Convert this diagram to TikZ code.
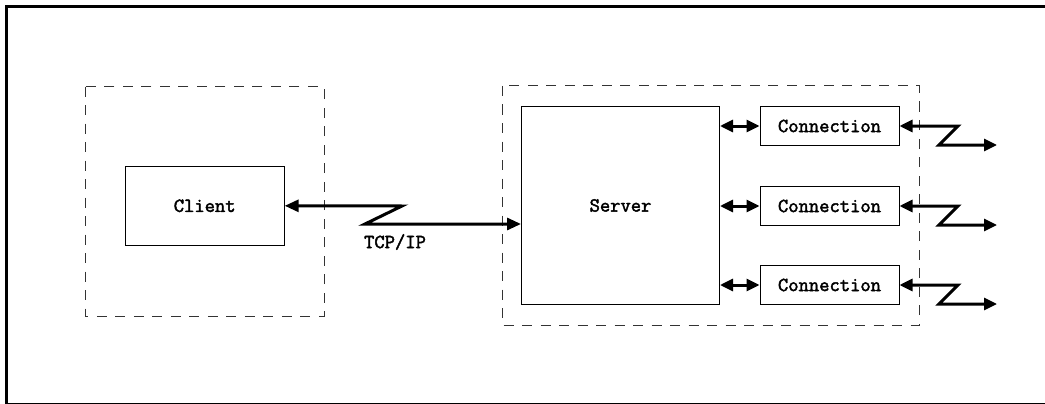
\documentclass[tikz,border=0pt]{standalone}
\usepackage{fontspec}
\setmonofont[AutoFakeBold=2.2]{Latin Modern Mono}
\usetikzlibrary{arrows.meta}
\tikzset{
  box/.style={draw, line width=1pt, inner sep=0pt, font=\ttfamily\bfseries\fontsize{20}{23}\selectfont},
  group/.style={draw=black!80, line width=1pt, dash pattern=on 10pt off 8.5pt},
  link/.style={line width=3pt, line join=miter, {Triangle[length=14pt,width=12pt]}-{Triangle[length=14pt,width=12pt]}},
  flow/.style={line width=3pt, line join=miter, {Triangle[length=13pt,width=12pt]}-{Triangle[length=13pt,width=12pt]}},
  lbl/.style={font=\ttfamily\bfseries\fontsize{20}{23}\selectfont, inner sep=0pt}
}
\begin{document}
\begin{tikzpicture}[x=1pt,y=-1pt]
\useasboundingbox (0,0) rectangle (1045,404);
\draw[line width=3pt] (6.5,6.5) rectangle (1070,404.6);
% groups
\draw[group] (85.7,86.7) rectangle (324,316);
\draw[group] (502,86) rectangle (919,325);
% nodes
\node[box, minimum width=159pt, minimum height=79pt] (client) at (204.7,205.8) {Client};
\node[box, minimum width=198pt, minimum height=197pt] (server) at (620.5,205.5) {Server};
\node[box, minimum width=139pt, minimum height=39pt] (conn1) at (829.5,126) {Connection};
\node[box, minimum width=139pt, minimum height=39pt] (conn2) at (829.5,206) {Connection};
\node[box, minimum width=139pt, minimum height=39pt] (conn3) at (829.5,285) {Connection};
\node[lbl] (tcp) at (395,242) {TCP/IP};
% TCP link
\coordinate (z1) at (402,206);
\coordinate (z2) at (365,224);
\draw[link] (client.east) -- (z1) -- (z2) -- (server.west |- z2);
% server <-> connection
\draw[flow] (server.east |- conn1) -- (conn1.west);
\draw[flow] (server.east |- conn2) -- (conn2.west);
\draw[flow] (server.east |- conn3) -- (conn3.west);
% outgoing
\coordinate (a1) at (958,126); \coordinate (b1) at (939,145); \coordinate (o1) at (997,145);
\coordinate (a2) at (958,206); \coordinate (b2) at (939,225); \coordinate (o2) at (997,225);
\coordinate (a3) at (958,285); \coordinate (b3) at (939,304); \coordinate (o3) at (997,304);
\draw[flow] (conn1.east) -- (a1) -- (b1) -- (o1);
\draw[flow] (conn2.east) -- (a2) -- (b2) -- (o2);
\draw[flow] (conn3.east) -- (a3) -- (b3) -- (o3);
\end{tikzpicture}
\end{document}
